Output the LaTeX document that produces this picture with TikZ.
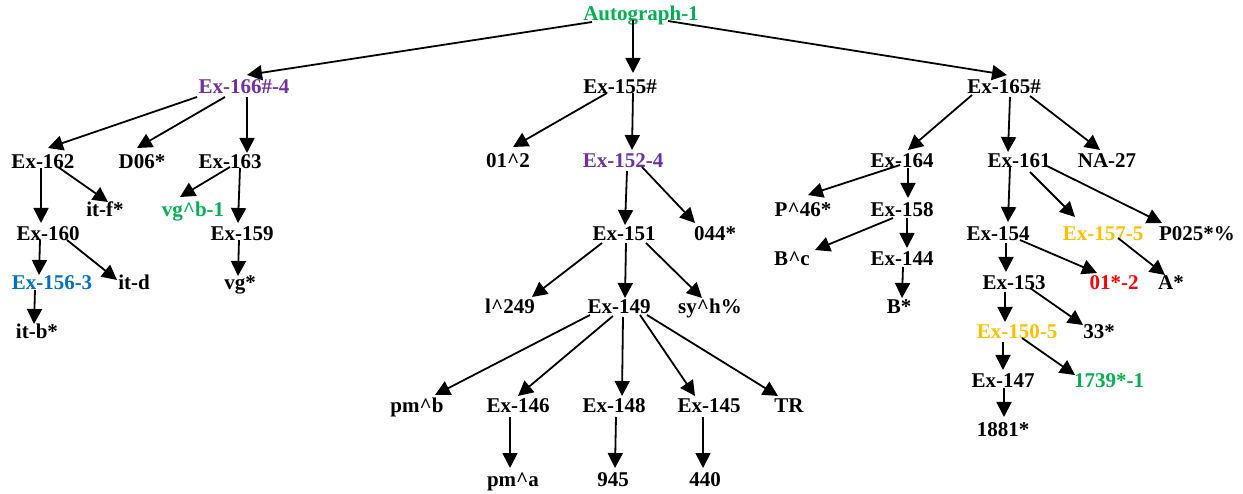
\documentclass[tikz,border=0pt]{standalone}
\usepackage{fontspec}
\setmainfont{Liberation Serif}
\usepackage{tikz}
\usetikzlibrary{arrows.meta}
\definecolor{agGreen}{HTML}{00B050}
\definecolor{agPurple}{HTML}{7030A0}
\definecolor{agBlue}{HTML}{0070C0}
\definecolor{agGold}{HTML}{FFC000}
\definecolor{agRed}{HTML}{FF0000}
\tikzset{
  lbl/.style   = {inner sep=1pt, text height=13pt, text depth=0pt,
                  font=\fontsize{21}{21}\selectfont\bfseries},
  lgreen/.style  = {lbl, text=agGreen},
  lpurple/.style = {lbl, text=agPurple},
  lblue/.style   = {lbl, text=agBlue},
  lgold/.style   = {lbl, text=agGold},
  lred/.style    = {lbl, text=agRed},
  arr/.style   = {-{Triangle[length=15pt, width=15pt]}, line width=1.8pt},
}
\newcommand{\crt}{\textasciicircum}
\begin{document}
\begin{tikzpicture}[x=1pt, y=-1pt]
  \useasboundingbox (0,0) rectangle (1243,494);
  % root and first level
  \node[lgreen]  (root)  at (641,14)  {Autograph-1};
  \node[lpurple] (ex166) at (244,87)  {Ex-166\#-4};
  \node[lbl]     (ex155) at (620,87)  {Ex-155\#};
  \node[lbl]     (ex165) at (1004,87) {Ex-165\#};
  % left branch
  \node[lbl]     (ex162) at (43,162)  {Ex-162};
  \node[lbl]     (d06)   at (142,162) {D06*};
  \node[lbl]     (ex163) at (230,162) {Ex-163};
  \node[lbl]     (itf)   at (105,210) {it-f*};
  \node[lgreen]  (vgb)   at (193,210) {vg\crt b-1};
  \node[lbl]     (ex160) at (48,234)  {Ex-160};
  \node[lbl]     (ex159) at (242,234) {Ex-159};
  \node[lblue]   (ex156) at (52,283)  {Ex-156-3};
  \node[lbl]     (itd)   at (134,283) {it-d};
  \node[lbl]     (vg)    at (240,283) {vg*};
  \node[lbl]     (itb)   at (37,332)  {it-b*};
  % middle branch
  \node[lbl]     (o12)   at (508,161) {01\crt 2};
  \node[lpurple] (ex152) at (623,161) {Ex-152-4};
  \node[lbl]     (ex151) at (624,234) {Ex-151};
  \node[lbl]     (o44)   at (715,234) {044*};
  \node[lbl]     (l249)  at (510,307) {l\crt 249};
  \node[lbl]     (ex149) at (619,307) {Ex-149};
  \node[lbl]     (syh)   at (710,307) {sy\crt h\%};
  \node[lbl]     (pmb)   at (417,406) {pm\crt b};
  \node[lbl]     (ex146) at (518,406) {Ex-146};
  \node[lbl]     (ex148) at (614,406) {Ex-148};
  \node[lbl]     (ex145) at (709,406) {Ex-145};
  \node[lbl]     (tr)    at (789,406) {TR};
  \node[lbl]     (pma)   at (513,480) {pm\crt a};
  \node[lbl]     (n945)  at (613,480) {945};
  \node[lbl]     (n440)  at (705,480) {440};
  % right branch
  \node[lbl]     (ex164) at (902,161)  {Ex-164};
  \node[lbl]     (ex161) at (1019,161) {Ex-161};
  \node[lbl]     (na27)  at (1107,161) {NA-27};
  \node[lbl]     (p46)   at (803,210)  {P\crt 46*};
  \node[lbl]     (ex158) at (902,210)  {Ex-158};
  \node[lbl]     (bc)    at (792,259)  {B\crt c};
  \node[lbl]     (ex144) at (902,259)  {Ex-144};
  \node[lbl]     (bst)   at (899,307)  {B*};
  \node[lbl]     (ex154) at (998,234)  {Ex-154};
  \node[lgold]   (ex157) at (1103,234) {Ex-157-5};
  \node[lbl]     (p025)  at (1197,234) {P025*\%};
  \node[lbl]     (ex153) at (1014,283) {Ex-153};
  \node[lred]    (o1st)  at (1114,283) {01*-2};
  \node[lbl]     (ast)   at (1171,283) {A*};
  \node[lgold]   (ex150) at (1017,332) {Ex-150-5};
  \node[lbl]     (n33)   at (1099,332) {33*};
  \node[lbl]     (ex147) at (1003,381) {Ex-147};
  \node[lgreen]  (n1739) at (1109,381) {1739*-1};
  \node[lbl]     (n1881) at (1003,430) {1881*};
  % edges: source/offset/target/offset
  \foreach \a/\sx/\sy/\b/\tx/\ty in {
      root/-49/8/ex166/3/-12, root/-8/6/ex155/13/-14, root/27/7/ex165/3/-12,
      ex166/-47/10/ex162/5/-14, ex166/-19/10/d06/-5/-14, ex166/3/10/ex163/17/-9,
      ex162/-2/6/ex160/-7/-11, ex162/15/5/itf/3/-8,
      ex163/0/5/vgb/-13/-13, ex163/10/6/ex159/-4/-11,
      ex160/-8/6/ex156/-13/-8, ex160/19/6/itd/-17/-3,
      ex156/-17/7/itb/-3/-8, ex159/-3/6/vg/-2/-7,
      ex155/-13/6/o12/5/-14, ex155/13/6/ex152/9/-11,
      ex152/4/10/ex151/1/-9, ex152/19/6/o44/-20/-11,
      ex151/-22/9/l249/22/-10, ex151/2/9/ex149/6/-9, ex151/22/9/syh/-8/-9,
      ex149/-29/8/pmb/18/-11, ex149/-6/9/ex146/0/-10, ex149/4/10/ex148/8/-10,
      ex149/21/8/ex145/-14/-10, ex149/28/8/tr/-11/-10,
      ex146/-8/11/pma/-3/-12, ex148/2/11/n945/2/-12, ex145/-6/11/n440/-2/-12,
      ex165/-32/8/ex164/6/-11, ex165/6/10/ex161/-11/-9, ex165/26/9/na27/-7/-11,
      ex164/-2/4/p46/5/-15, ex164/6/7/ex158/6/-12,
      ex158/-9/8/bc/23/-9, ex158/5/8/ex144/5/-11, ex144/1/8/bst/3/-9,
      ex161/-9/6/ex154/10/-12, ex161/11/11/ex157/-28/-17, ex161/28/5/p025/-35/-11,
      ex154/8/9/ex153/-8/-11, ex154/22/6/o1st/-17/-10, ex157/15/4/ast/-6/-8,
      ex153/-9/9/ex150/-12/-10, ex153/16/5/n33/-16/-7,
      ex150/-14/10/ex147/0/-11, ex150/5/6/n1739/-34/-6, ex147/1/7/n1881/1/-13}
    \draw[arr] ([shift={(\sx,\sy)}]\a.center) -- ([shift={(\tx,\ty)}]\b.center);
\end{tikzpicture}
\end{document}
